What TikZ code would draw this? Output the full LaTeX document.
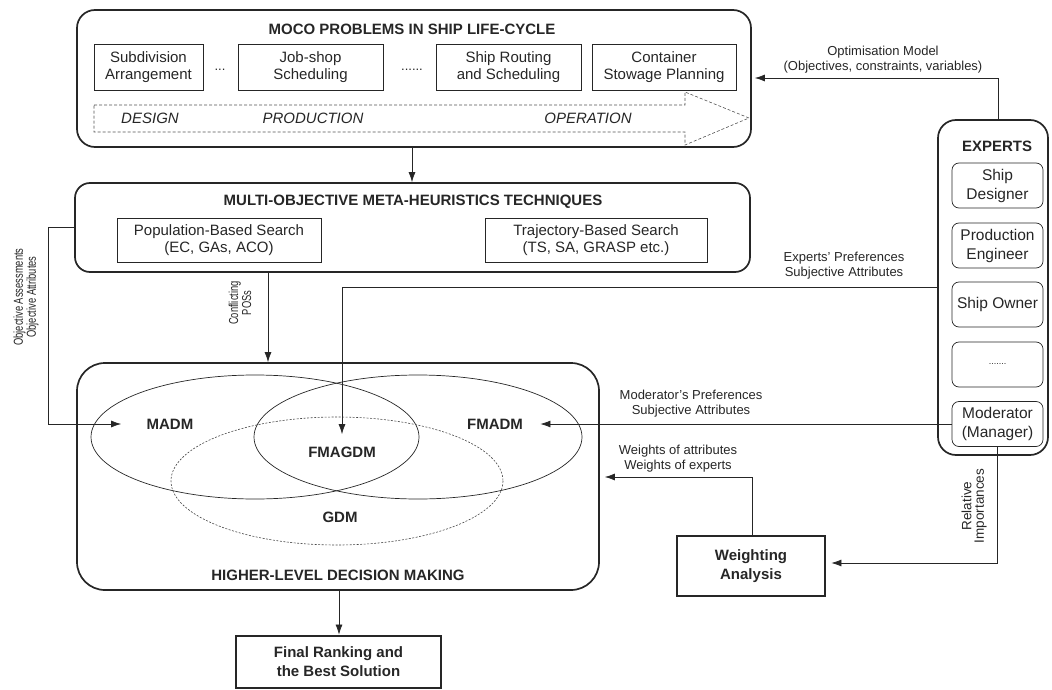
\documentclass[tikz,border=0pt]{standalone}
\usepackage{fontspec}
\setmainfont{Liberation Sans}
\newfontfamily\narrowfont{Liberation Sans}[FakeStretch=0.72]
\usetikzlibrary{arrows.meta}
\definecolor{ink}{gray}{0.15}
\begin{document}
\begin{tikzpicture}[x=1pt,y=-1pt,
  every node/.style={text=ink},
  outer/.style={draw=ink, line width=1.7pt, rounded corners=18pt, inner sep=0pt},
  inbox/.style={draw=ink, line width=0.7pt, align=center, inner sep=0pt,
    font=\fontsize{15}{17}\selectfont},
  ebox/.style={draw=ink, line width=0.7pt, rounded corners=7pt, align=center,
    inner sep=0pt, minimum width=91pt, minimum height=45pt,
    font=\fontsize{15.5}{19}\selectfont},
  heavybox/.style={draw=ink, line width=2.8pt, align=center, inner sep=0pt,
    font=\bfseries\fontsize{15}{19}\selectfont},
  title/.style={font=\bfseries\fontsize{15}{18}\selectfont},
  phase/.style={font=\itshape\fontsize{15}{18}\selectfont},
  note/.style={align=center, font=\fontsize{13}{15}\selectfont},
  narrowlbl/.style={align=center, rotate=90, font=\narrowfont\fontsize{13}{13}\selectfont},
  rotlbl/.style={align=center, rotate=90, font=\fontsize{13.5}{12.5}\selectfont},
  link/.style={draw=ink, line width=0.7pt},
  arr/.style={link, -{Latex[length=10pt,width=7pt]}}
]
\useasboundingbox (0,0) rectangle (1052,690);

% ---- MOCO problems in the ship life-cycle ----
\node[outer, minimum width=674pt, minimum height=137pt] (moco) at (414,78.5) {};
\node[title] (mocot) at (412,29) {MOCO PROBLEMS IN SHIP LIFE-CYCLE};
\node[inbox, minimum width=109pt, minimum height=46pt] (sub) at (148.5,67) {Subdivision\\Arrangement};
\node[note] (dots1) at (220,70) {...};
\node[inbox, minimum width=145pt, minimum height=46pt] (job) at (310.5,67) {Job-shop\\Scheduling};
\node[note] (dots2) at (412,70) {......};
\node[inbox, minimum width=145pt, minimum height=46pt] (route) at (508.5,67) {Ship Routing\\and Scheduling};
\node[inbox, minimum width=144pt, minimum height=46pt] (stow) at (664,67) {Container\\Stowage Planning};
\draw[draw=ink!80, line width=0.6pt, dash pattern=on 3pt off 2pt]
  (94,105) -- (685,105) -- (685,92) -- (749,118) -- (685,145) -- (685,132) -- (94,132) -- cycle;
\node[phase] (design) at (150,118) {DESIGN};
\node[phase] (production) at (313,118) {PRODUCTION};
\node[phase] (operation) at (588,118) {OPERATION};

% ---- meta-heuristics ----
\node[outer, rounded corners=15pt, minimum width=675pt, minimum height=89pt] (multi) at (412.5,227.5) {};
\node[title] (multit) at (413,202) {MULTI-OBJECTIVE META-HEURISTICS TECHNIQUES};
\node[inbox, minimum width=204pt, minimum height=44pt] (pop) at (219,240) {Population-Based Search\\(EC, GAs, ACO)};
\node[inbox, minimum width=222pt, minimum height=44pt] (traj) at (596,240) {Trajectory-Based Search\\(TS, SA, GRASP etc.)};

% ---- higher-level decision making ----
\node[outer, rounded corners=28pt, minimum width=522pt, minimum height=227pt] (higher) at (338,476.5) {};
\draw[draw=ink, line width=0.7pt] (255,437) ellipse [x radius=164, y radius=62];
\draw[draw=ink, line width=0.7pt] (418,437) ellipse [x radius=164, y radius=62];
\draw[draw=ink!85, line width=0.6pt, dash pattern=on 2pt off 1.5pt] (337,481) ellipse [x radius=166, y radius=64];
\node[title] (madm) at (170,424) {MADM};
\node[title] (fmadm) at (495,424) {FMADM};
\node[title] (fmagdm) at (342,452) {FMAGDM};
\node[title] (gdm) at (340,517) {GDM};
\node[title] (highert) at (338,575) {HIGHER-LEVEL DECISION MAKING};

% ---- experts ----
\node[outer, minimum width=110pt, minimum height=335pt] (experts) at (993,287.5) {};
\node[title] (expertst) at (997,146) {EXPERTS};
\node[ebox] (designer) at (997.5,185.5) {Ship\\Designer};
\node[ebox] (engineer) at (997.5,245.5) {Production\\Engineer};
\node[ebox] (owner) at (997.5,304.5) {Ship Owner};
\node[ebox, font=\fontsize{9}{10}\selectfont] (others) at (997.5,364.5) {.......};
\node[ebox] (moderator) at (997.5,424) {Moderator\\(Manager)};

% ---- result boxes ----
\node[heavybox, minimum width=148pt, minimum height=60pt] (weight) at (751,566) {Weighting\\Analysis};
\node[heavybox, minimum width=205pt, minimum height=52pt] (final) at (338.5,662) {Final Ranking and\\the Best Solution};

% ---- connectors ----
\draw[arr] (moco.south -| 412,0) -- (multi.north -| 412,0);
\draw[arr, shorten >=3pt] (experts.north -| 998,0) |- (moco.east |- 0,78);
\draw[arr, shorten >=22pt] (multi.west |- 0,227) -- (48,227) |- (madm.west);
\draw[arr] (multi.south -| 268,0) -- (higher.north -| 268,0);
\draw[arr, shorten >=9pt] (experts.west |- 0,287) -| (fmagdm.north);
\draw[arr, shorten >=14pt] (moderator.west) -- (fmadm.east);
\draw[arr, shorten >=5pt] (weight.north -| 752,0) |- (higher.east |- 0,477);
\draw[arr, shorten >=5pt] (moderator.south) |- (weight.east |- 0,563);
\draw[arr] (higher.south -| 339,0) -- (final.north -| 339,0);

% ---- connector labels ----
\node[note] (optl) at (883,60) {Optimisation Model\\(Objectives, constraints, variables)};
\node[note] (expl) at (844,266) {Experts' Preferences\\Subjective Attributes};
\node[note] (modl) at (691,404) {Moderator's Preferences\\Subjective Attributes};
\node[note] (wl) at (678,459) {Weights of attributes\\Weights of experts};
\node[narrowlbl] (confl) at (240,303) {Conflicting\\POSs};
\node[narrowlbl] (objl) at (26,297) {Objective Assessments\\Objective Attributes};
\node[rotlbl] (rell) at (974,506) {Relative\\Importances};
\end{tikzpicture}
\end{document}
